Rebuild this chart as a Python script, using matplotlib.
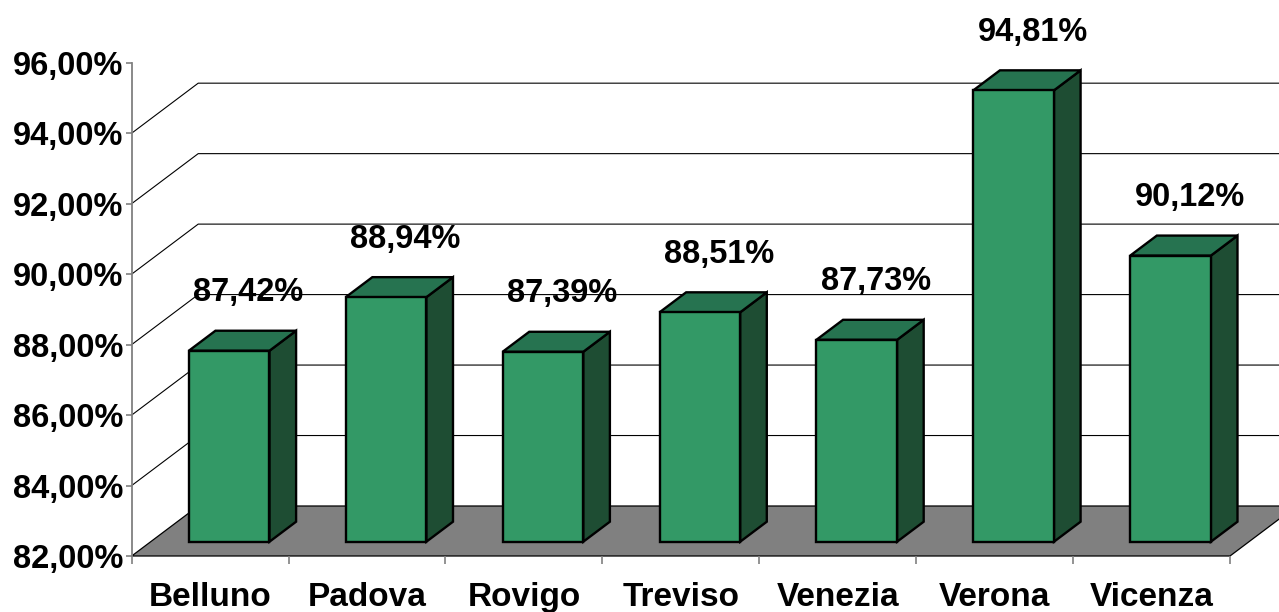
import matplotlib
matplotlib.use("Agg")
import matplotlib.pyplot as plt
from matplotlib.patches import Polygon

# ---- data ----
categories = ["Belluno", "Padova", "Rovigo", "Treviso", "Venezia", "Verona", "Vicenza"]
values = [87.42, 88.94, 87.39, 88.51, 87.73, 94.81, 90.12]
value_labels = ["87,42%", "88,94%", "87,39%", "88,51%", "87,73%", "94,81%", "90,12%"]
y_ticks = [82, 84, 86, 88, 90, 92, 94, 96]

# ---- style ----
FONT = "Liberation Sans"
FS = 23.5
FS_X = 24
FRONT = "#339966"
TOP = "#267350"
SIDE = "#1E4D33"
FLOOR = "#808080"

W, H, DPI = 1279, 612, 100
fig = plt.figure(figsize=(W / DPI, H / DPI), dpi=DPI)
fig.patch.set_facecolor("white")

left_px, right_px = 131.7, 1230.0
bottom_px, top_px = 556.0, 62.7
ax = fig.add_axes([left_px / W, (H - bottom_px) / H,
                   (right_px - left_px) / W, (bottom_px - top_px) / H])
n = len(categories)
ymin, ymax = y_ticks[0], y_ticks[-1]
ax.set_xlim(0, n)
ax.set_ylim(ymin, ymax)
ax.set_facecolor("none")

# 3D depth offset in data units
px_per_cat = (right_px - left_px) / n
px_per_pct = (bottom_px - top_px) / (ymax - ymin)
DX = 66.5 / px_per_cat
DY = 50.0 / px_per_pct

# floor
floor = Polygon([(0, ymin), (n, ymin), (n + DX, ymin + DY), (DX, ymin + DY)],
                closed=True, facecolor=FLOOR, edgecolor="black", lw=0.9,
                clip_on=False, zorder=1)
ax.add_patch(floor)

# gridlines on side wall and back wall
for v in y_ticks[1:-1]:
    ax.plot([0, DX, n + DX], [v, v + DY, v + DY], color="black", lw=0.8,
            clip_on=False, zorder=1.5, solid_joinstyle="miter")

# bars
f1, f2 = 0.286, 0.686
bw = 0.514
ddx, ddy = (f2 - f1) * DX, (f2 - f1) * DY
for i, v in enumerate(values):
    x0 = i + 0.5 - bw / 2 + f1 * DX
    x1 = x0 + bw
    y0 = ymin + f1 * DY
    y1 = v + f1 * DY
    kw = dict(closed=True, edgecolor="black", lw=1.7, clip_on=False,
              joinstyle="miter", zorder=3 + i * 0.01)
    ax.add_patch(Polygon([(x1, y0), (x1 + ddx, y0 + ddy), (x1 + ddx, y1 + ddy), (x1, y1)],
                         facecolor=SIDE, **kw))
    ax.add_patch(Polygon([(x0, y1), (x1, y1), (x1 + ddx, y1 + ddy), (x0 + ddx, y1 + ddy)],
                         facecolor=TOP, **kw))
    ax.add_patch(Polygon([(x0, y0), (x1, y0), (x1, y1), (x0, y1)],
                         facecolor=FRONT, **kw))
    fm = (f1 + f2) / 2
    ax.annotate(value_labels[i], xy=(i + 0.5 + fm * DX, v + fm * DY),
                xytext=(4.3, 34.5), textcoords="offset points",
                ha="center", va="center", fontsize=FS, fontweight="bold",
                family=FONT, color="black", zorder=5, annotation_clip=False)

# axes styling
for s in ["top", "right", "bottom"]:
    ax.spines[s].set_visible(False)
ax.spines["left"].set_color("#808080")
ax.spines["left"].set_linewidth(1.3)
ax.spines["left"].set_zorder(2)

ax.set_yticks(y_ticks)
ax.set_yticklabels([f"{t:.2f}%".replace(".", ",") for t in y_ticks],
                   fontsize=FS, fontweight="bold", family=FONT)
ax.tick_params(axis="y", direction="out", length=4, width=1.2, color="#808080", pad=2)

ax.set_xticks(range(n + 1))
ax.set_xticklabels([])
ax.set_xticks([i + 0.5 for i in range(n)], minor=True)
ax.set_xticklabels(categories, minor=True, fontsize=FS_X, fontweight="bold", family=FONT)
ax.tick_params(axis="x", which="major", direction="out", length=6, width=1.2, color="#808080")
ax.tick_params(axis="x", which="minor", length=0, pad=19)

fig.savefig("out.png", dpi=DPI, facecolor="white")
